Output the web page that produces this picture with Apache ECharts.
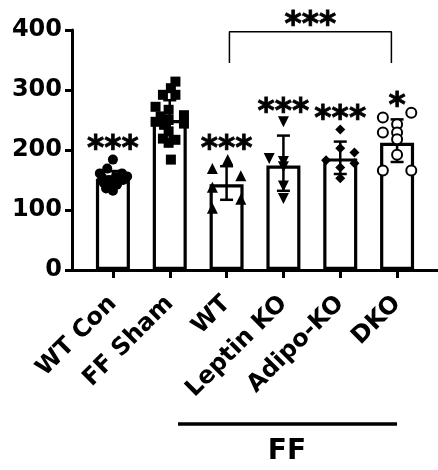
<!DOCTYPE html>
<html>
<head>
<meta charset="utf-8">
<script src="https://cdn.jsdelivr.net/npm/echarts@6/dist/echarts.min.js"></script>
<style>
html,body{margin:0;padding:0;background:#fff;}
#c{width:438px;height:470px;}
</style>
</head>
<body>
<div id="c"></div>
<script>
// ---------- data ----------
const categories = ['WT Con', 'FF Sham', 'WT', 'Leptin KO', 'Adipo-KO', 'DKO'];
const means   = [152, 250, 143, 174, 186, 212];
const errLow  = [140, 217, 117, 132, 160, 180];
const errHigh = [165, 283, 173, 224, 214, 251];
const yTicks = [0, 100, 200, 300, 400];

// individual points: [jitter within category (fraction of category width), value]
const ptsWTCon = [[0,184],[-0.1,169],[-0.23,161],[0.16,161],[0.25,156],[-0.19,154],[0.05,155],[-0.07,150],[0.1,148],[-0.16,145],[-0.09,142],[0.07,142],[-0.12,136],[0,132],[0.18,150]];
const ptsSham  = [[0.1,314],[0.02,303],[-0.12,292],[0.1,292],[-0.25,272],[-0.02,267],[0.25,258],[-0.16,256],[-0.25,247],[-0.02,250],[0.25,244],[-0.1,242],[-0.02,231],[-0.12,219],[0.1,217],[-0.02,212],[0.02,184]];
const ptsWT    = [[0.02,184],[-0.25,169],[0.25,157],[-0.25,138],[0.25,118],[-0.25,103]];
const ptsLep   = [[0,247],[-0.25,186],[0,181],[0,172],[0,140],[0,119]];
const ptsAdipo = [[0,234],[0,203],[0.25,196],[-0.25,183],[0.25,178],[0,171],[0,153]];
const ptsDKO   = [[-0.25,254],[0.25,262],[0,243],[-0.25,229],[0,229],[0,218],[0,192],[-0.25,166],[0.25,166]];

// significance marks
const starText = ['***', '', '***', '***', '***', '*'];
const starY    = [211, null, 211, 273, 261, 283];
const bracketX = [2.05, 4.9];
const bracketY = [345, 397];
const bracketStarY = 417;
const groupLabel = 'FF';

// ---------- chart ----------
const FONT = '"DejaVu Sans"';
const chart = echarts.init(document.getElementById('c'), null, {renderer: 'canvas'});

function toXY(pts, g) { return pts.map(p => [g + p[0], p[1]]); }

const pointSeries = [
  {data: toXY(ptsWTCon, 0), symbol: 'circle', symbolSize: 10},
  {data: toXY(ptsSham, 1), symbol: 'rect', symbolSize: 10},
  {data: toXY(ptsWT, 2), symbol: 'triangle', symbolSize: 11},
  {data: toXY(ptsLep, 3), symbol: 'triangle', symbolSize: 11, symbolRotate: 180},
  {data: toXY(ptsAdipo, 4), symbol: 'diamond', symbolSize: 10},
  {data: toXY(ptsDKO, 5), symbol: 'circle', symbolSize: 10, hollow: true}
].map(s => ({
  type: 'scatter',
  xAxisIndex: 2, yAxisIndex: 1,
  data: s.data,
  symbol: s.symbol,
  symbolSize: s.symbolSize,
  symbolRotate: s.symbolRotate || 0,
  itemStyle: s.hollow ? {color: '#fff', borderColor: '#000', borderWidth: 2, opacity: 1} : {color: '#000', opacity: 1},
  emphasis: {disabled: true},
  z: 5,
  silent: true
}));

const starLabel = {show: true, position: 'inside', color: '#000', opacity: 1, fontFamily: FONT, fontWeight: 'bold', fontSize: 33,
  textBorderColor: '#000', textBorderWidth: 0.8, offset: [0, 7]};

const option = {
  animation: false,
  backgroundColor: '#fff',
  grid: [
    {left: 72, right: 0, top: 30, bottom: 200, outerBoundsMode: 'none', containLabel: false},
    {left: 84.5, right: 12.5, top: 30, bottom: 200, outerBoundsMode: 'none', containLabel: false}
  ],
  xAxis: [
    {gridIndex: 0, type: 'value', min: 0, max: 1,
      axisLine: {show: true, lineStyle: {color: '#000', width: 3}},
      axisTick: {show: false}, axisLabel: {show: false}, splitLine: {show: false}},
    {gridIndex: 1, type: 'category', data: categories, boundaryGap: true,
      axisLine: {show: false},
      axisTick: {show: true, alignWithLabel: true, length: 8, lineStyle: {color: '#000', width: 3}},
      axisLabel: {rotate: 45, margin: 30, color: '#000', fontFamily: FONT, fontWeight: 'bold', fontSize: 24, interval: 0},
      splitLine: {show: false}},
    {gridIndex: 1, type: 'value', min: -0.5, max: 5.5, show: false}
  ],
  yAxis: [
    {gridIndex: 0, type: 'value', min: 0, max: 400, interval: 100,
      axisLine: {show: true, lineStyle: {color: '#000', width: 3}},
      axisTick: {show: true, length: 7, lineStyle: {color: '#000', width: 3}},
      axisLabel: {margin: 10, color: '#000', fontFamily: FONT, fontWeight: 'bold', fontSize: 24,
        customValues: yTicks},
      splitLine: {show: false}},
    {gridIndex: 1, type: 'value', min: 0, max: 400, show: false}
  ],
  series: [
    {type: 'bar', xAxisIndex: 1, yAxisIndex: 1, data: means, barWidth: 34,
      itemStyle: {color: '#fff', borderColor: '#000', borderWidth: 3.2, opacity: 1}, z: 2, silent: true},
    {type: 'custom', xAxisIndex: 1, yAxisIndex: 1, z: 3, silent: true,
      data: categories.map((c, i) => [i, errLow[i], errHigh[i]]),
      renderItem: function (params, api) {
        const lo = api.coord([api.value(0), api.value(1)]);
        const hi = api.coord([api.value(0), api.value(2)]);
        const hw = 6.5;
        const st = {stroke: '#000', lineWidth: 2.5};
        return {type: 'group', children: [
          {type: 'line', shape: {x1: hi[0], y1: hi[1], x2: lo[0], y2: lo[1]}, style: st},
          {type: 'line', shape: {x1: hi[0] - hw, y1: hi[1], x2: hi[0] + hw, y2: hi[1]}, style: st},
          {type: 'line', shape: {x1: lo[0] - hw, y1: lo[1], x2: lo[0] + hw, y2: lo[1]}, style: st}
        ]};
      }},
    ...pointSeries,
    {type: 'scatter', xAxisIndex: 1, yAxisIndex: 1, symbolSize: 1, clip: false, silent: true,
      itemStyle: {color: 'rgba(0,0,0,0)'},
      emphasis: {disabled: true},
      data: categories.map((c, i) => starY[i] == null ? null : {value: [i, starY[i]], label: {formatter: starText[i]}}).filter(d => d),
      label: starLabel,
      z: 6},
    {type: 'line', xAxisIndex: 2, yAxisIndex: 1, silent: true, symbol: 'none', clip: false,
      lineStyle: {color: '#000', width: 1.5, opacity: 1},
      data: [[bracketX[0], bracketY[0]], [bracketX[0], bracketY[1]], [bracketX[1], bracketY[1]], [bracketX[1], bracketY[0]]], z: 4},
    {type: 'scatter', xAxisIndex: 2, yAxisIndex: 1, symbolSize: 1, clip: false, silent: true,
      itemStyle: {color: 'rgba(0,0,0,0)'},
      emphasis: {disabled: true},
      data: [{value: [(bracketX[0] + bracketX[1]) / 2, bracketStarY], label: {formatter: '***'}}],
      label: starLabel,
      z: 6}
  ],
  graphic: [
    {type: 'line', shape: {x1: 178, y1: 424, x2: 397, y2: 424}, style: {stroke: '#000', lineWidth: 3.5}},
    {type: 'text', x: 287, y: 452, style: {text: groupLabel, fill: '#000', font: 'bold 28px "DejaVu Sans"', textAlign: 'center', textVerticalAlign: 'middle'}}
  ]
};
chart.setOption(option);
</script>
</body>
</html>
